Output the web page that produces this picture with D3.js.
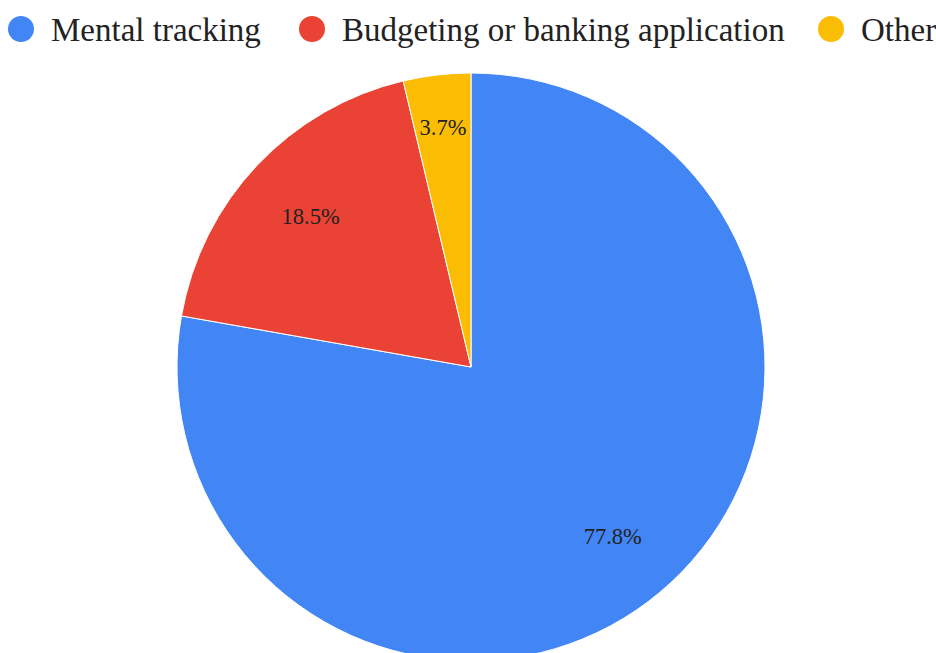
<!DOCTYPE html>
<html>
<head>
<meta charset="utf-8">
<script src="https://cdn.jsdelivr.net/npm/d3@7"></script>
<style>
  body { margin: 0; background: #fff; }
  text { font-family: "Liberation Serif", "Times New Roman", serif; fill: #222; }
</style>
</head>
<body>
<div id="chart"></div>
<script>
// data
var labels = ["Mental tracking", "Budgeting or banking application", "Other"];
var counts = [21, 5, 1];
var colors = ["#4285f4", "#ea4335", "#fbbc04"];

var width = 936, height = 653;
var cx = 471, cy = 367, radius = 294;

var svg = d3.select("#chart")
  .append("svg")
    .attr("width", width)
    .attr("height", height);

var total = d3.sum(counts);
var data = labels.map(function(l, i) { return { label: l, value: counts[i], color: colors[i] }; });

var pie = d3.pie()
  .value(function(d) { return d.value; })
  .sort(null);

var arc = d3.arc().innerRadius(0).outerRadius(radius);

var g = svg.append("g")
  .attr("transform", "translate(" + cx + "," + cy + ")");

var slices = g.selectAll(".slice")
  .data(pie(data))
  .enter().append("g")
  .attr("class", "slice");

slices.append("path")
  .attr("d", arc)
  .attr("fill", function(d) { return d.data.color; })
  .attr("stroke", "#fff")
  .attr("stroke-width", 1);

// labels: small slices get pushed further out
slices.append("text")
  .attr("transform", function(d) {
    var k = (d.endAngle - d.startAngle) < 0.5 ? 0.82 : 0.75;
    var a = (d.startAngle + d.endAngle) / 2;
    return "translate(" + (Math.sin(a) * radius * k) + "," + (-Math.cos(a) * radius * k) + ")";
  })
  .attr("text-anchor", "middle")
  .attr("dy", "0.35em")
  .style("font-size", "22.5px")
  .text(function(d) { return (d.data.value / total * 100).toFixed(1) + "%"; });

// legend
var legendX = [21, 312, 831];
var legend = svg.selectAll(".legend")
  .data(data)
  .enter().append("g")
  .attr("class", "legend")
  .attr("transform", function(d, i) { return "translate(" + legendX[i] + ",29)"; });

legend.append("circle")
  .attr("r", 13)
  .attr("fill", function(d) { return d.color; });

legend.append("text")
  .attr("x", 30)
  .attr("dy", "0.35em")
  .style("font-size", "33px")
  .text(function(d) { return d.label; });
</script>
</body>
</html>
